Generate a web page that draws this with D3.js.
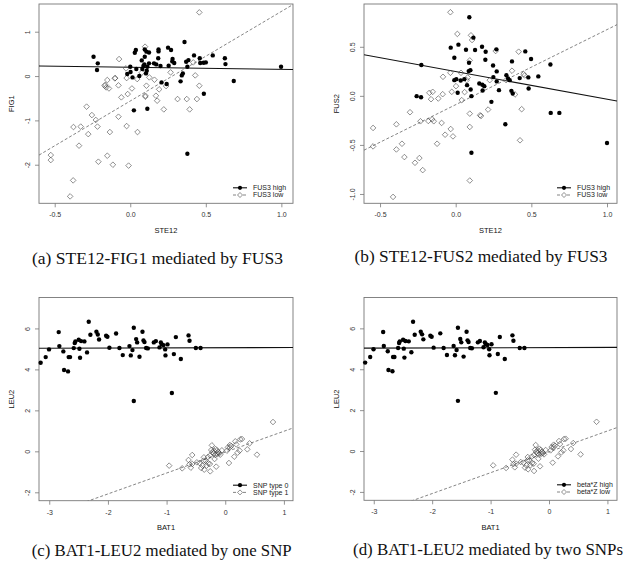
<!DOCTYPE html>
<html>
<head>
<meta charset="utf-8">
<script src="https://cdn.jsdelivr.net/npm/d3@7"></script>
<style>
    body { margin: 0; background: #fff; }
    svg { display: block; }
</style>
</head>
<body>
<div id="chart"></div>
<script>
// ---------- data ----------
// panel (a): STE12 vs FIG1, split by FUS3
const fig1_high = [[-0.243,0.436],[-0.215,0.286],[-0.22,0.135],[0.037,0.586],[0.03,0.526],[0.096,0.60],[0.107,0.55],[0.124,0.53],[0.187,0.60],[0.187,0.556],[0.25,0.64],[0.27,0.586],[0.359,0.767],[0.422,0.466],[0.546,0.466],[0.626,0.40],[0.63,0.27],[0.998,0.21],[0.685,-0.113],[0.487,-0.40],[0.024,-0.774],[0.113,-0.737],[0.378,-1.752],[0.207,-0.143],[0.241,-0.18],[0.333,-0.12],[0.341,0.015],[0.348,0.06],[0.015,-0.03],[-0.02,0.045],[0.002,0.09],[0.0,0.21],[0.04,0.158],[0.06,0.0],[0.076,0.353],[0.093,0.263],[0.109,0.12],[0.113,0.21],[0.104,0.06],[0.124,0.286],[0.157,0.286],[0.172,0.263],[0.185,0.40],[0.2,0.226],[0.254,0.233],[0.28,0.383],[0.278,0.33],[0.291,0.293],[0.37,0.323],[0.385,0.36],[0.378,0.21],[0.463,0.293],[0.485,0.30],[0.5,0.308],[0.46,0.40],[0.087,0.226],[0.08,0.158],[0.096,0.436]];
const fig1_low = [[0.457,1.436],[0.098,0.662],[-0.074,0.383],[-0.028,0.173],[-0.024,-0.045],[0.046,-0.068],[-0.152,-0.09],[-0.102,-0.053],[-0.17,-0.218],[-0.159,-0.256],[-0.141,-0.28],[-0.078,-0.21],[0.011,-0.28],[-0.017,-0.406],[-0.059,-0.48],[0.1,-0.444],[0.1,-0.466],[0.107,-0.218],[0.17,-0.444],[0.178,-0.556],[0.191,-0.30],[0.222,-0.752],[0.237,-0.226],[0.267,0.083],[0.076,0.075],[0.16,-0.083],[-0.289,-0.69],[-0.254,-0.88],[-0.228,-0.99],[-0.217,-1.14],[-0.328,-1.14],[-0.278,-1.31],[-0.339,-1.57],[-0.376,-1.15],[-0.078,-0.917],[-0.024,-1.128],[0.048,-1.263],[-0.135,-1.263],[-0.152,-1.797],[-0.211,-1.932],[-0.115,-2.0],[-0.011,-2.02],[-0.526,-1.782],[-0.526,-1.895],[-0.378,-2.353],[-0.398,-2.714],[0.313,-0.519],[0.374,-0.519],[0.393,-0.752],[0.441,-0.519],[0.43,0.015],[0.457,-0.218],[0.417,0.308],[0.126,-0.03],[-0.1,-0.045],[-0.165,-0.2]];

// panel (b): STE12 vs FUS2, split by FUS3
const fus2_high = [[0.09,0.801],[-0.033,0.491],[0.018,0.522],[0.068,0.47],[0.117,0.593],[0.128,0.467],[0.174,0.501],[0.198,0.45],[0.269,0.474],[0.46,0.453],[-0.009,0.389],[0.088,0.338],[0.196,0.368],[0.247,0.31],[0.271,0.249],[0.372,0.351],[0.498,0.375],[0.626,0.32],[-0.227,0.314],[-0.258,-0.003],[-0.229,-0.014],[-0.009,0.16],[0.004,0.17],[0.033,0.157],[0.057,0.17],[0.086,0.252],[0.097,0.262],[0.013,0.031],[0.075,0.109],[0.099,0.065],[0.104,-0.003],[0.156,0.126],[0.176,0.113],[0.178,0.055],[0.189,0.099],[0.249,0.191],[0.271,0.147],[0.286,0.058],[0.236,-0.061],[0.335,0.211],[0.346,0.177],[0.357,0.16],[0.368,0.051],[0.377,0.024],[0.423,0.181],[0.48,0.188],[0.482,0.075],[0.546,0.198],[0.328,-0.29],[0.628,-0.174],[0.685,-0.174],[1.0,-0.481],[0.104,-0.58]];
const fus2_low = [[-0.035,0.852],[0.011,0.631],[0.101,0.617],[0.108,0.569],[0.093,0.361],[-0.035,0.235],[-0.084,0.194],[0.035,0.235],[0.002,0.099],[-0.026,0.041],[-0.086,0.017],[-0.174,0.031],[-0.152,0.041],[-0.163,-0.034],[-0.115,-0.027],[-0.302,-0.167],[-0.392,-0.29],[-0.546,-0.327],[-0.233,-0.259],[-0.181,-0.256],[-0.156,-0.239],[-0.145,-0.259],[-0.093,-0.276],[-0.033,-0.338],[-0.07,-0.396],[-0.018,-0.413],[-0.123,-0.488],[-0.355,-0.488],[-0.546,-0.515],[-0.392,-0.546],[-0.339,-0.624],[-0.24,-0.634],[-0.269,-0.682],[-0.218,-0.757],[-0.414,-1.03],[0.093,-0.181],[0.093,-0.317],[0.167,-0.205],[0.161,-0.198],[0.214,-0.14],[0.093,-0.863],[0.059,0.038],[0.04,-0.044],[0.079,0.187],[0.225,0.16],[0.073,0.16],[0.372,0.256],[0.416,0.45],[0.264,0.457],[0.449,0.221],[0.456,0.208],[0.392,0.014],[0.436,-0.136],[0.425,-0.453],[0.333,0.16]];

// panels (c) and (d): BAT1 vs LEU2 (same samples, two groupings)
const leu2_high = [[-3.147,4.325],[-3.061,4.6],[-3.004,4.976],[-2.839,5.821],[-2.828,5.138],[-2.76,4.878],[-2.748,3.967],[-2.68,3.902],[-2.669,4.6],[-2.646,4.6],[-2.583,5.04],[-2.566,5.285],[-2.555,5.366],[-2.498,5.447],[-2.475,4.569],[-2.458,5.382],[-2.486,5.008],[-2.401,5.366],[-2.356,4.829],[-2.327,6.325],[-2.299,5.691],[-2.196,5.837],[-2.173,5.707],[-2.151,5.463],[-2.031,5.642],[-2.009,5.593],[-1.975,5.057],[-1.861,5.756],[-1.804,5.041],[-1.747,4.699],[-1.633,5.138],[-1.61,4.683],[-1.582,4.943],[-1.559,6.033],[-1.559,2.455],[-1.519,5.48],[-1.502,5.317],[-1.462,4.618],[-1.411,5.837],[-1.394,5.415],[-1.377,5.333],[-1.349,5.041],[-1.32,5.024],[-1.218,5.317],[-1.183,5.382],[-1.121,5.073],[-1.098,5.317],[-1.081,5.22],[-1.053,5.187],[-1.024,4.976],[-1.019,4.683],[-0.984,5.22],[-0.91,2.846],[-0.876,4.748],[-0.842,5.577],[-0.757,4.504],[-0.626,5.659],[-0.609,5.398],[-0.501,5.041],[-0.421,5.041]];
const leu2_low = [[0.814,1.431],[-0.956,-0.699],[-0.734,-0.829],[-0.609,-0.634],[-0.563,-0.179],[-0.626,-0.423],[-0.586,-0.797],[-0.484,-0.537],[-0.438,-0.569],[-0.41,-0.813],[-0.387,-0.699],[-0.364,-0.293],[-0.336,-0.455],[-0.319,-0.699],[-0.29,-0.585],[-0.296,-0.276],[-0.256,-0.195],[-0.262,-0.618],[-0.256,-0.976],[-0.228,0.293],[-0.239,0.065],[-0.222,-0.049],[-0.199,-0.098],[-0.182,-0.374],[-0.193,0.033],[-0.165,0.114],[-0.154,-0.748],[-0.142,0.049],[-0.119,-0.033],[-0.102,-0.098],[-0.057,0.049],[-0.131,-0.13],[-0.085,-0.163],[0.028,0.033],[0.063,-0.569],[0.08,0.195],[0.08,0.309],[0.102,0.26],[0.154,-0.26],[0.171,0.488],[0.211,-0.065],[0.245,0.033],[0.256,0.585],[0.285,0.602],[0.376,0.098],[0.415,0.39],[0.541,-0.163],[-0.37,-0.455],[-0.358,-0.894],[-0.563,-0.618],[-0.171,-0.179],[0.045,0.195],[0.188,0.341]];

// fitted lines per group: [intercept, slope]
const fit_fig1 = {high: [0.197, -0.047], low: [-0.563, 2.02]};
const fit_fus2 = {high: [0.248, -0.282], low: [-0.09, 0.765]};
const fit_leu2 = {high: [5.06, 0.008], low: [-0.04, 1.02]};

// tick values and labels
const ste12_ticks = [-0.5, 0, 0.5, 1];
const ste12_tick_labels = ["-0.5", "0.0", "0.5", "1.0"];
const fig1_ticks = [-2, -1, 0, 1];
const fig1_tick_labels = ["-2", "-1", "0", "1"];
const fus2_ticks = [-1, -0.5, 0, 0.5];
const fus2_tick_labels = ["-1.0", "-0.5", "0.0", "0.5"];
const bat1_ticks = [-3, -2, -1, 0, 1];
const bat1_tick_labels = ["-3", "-2", "-1", "0", "1"];
const leu2_ticks = [-2, 0, 2, 4, 6];
const leu2_tick_labels = ["-2", "0", "2", "4", "6"];

class Mediation_Panel {
    constructor(svg, cfg) {
        this.svg = svg;
        this.cfg = cfg;
        this.initVis();
    }

    initVis() {
        let c = this.cfg;
        this.g = this.svg.append("g");

        // scales
        this.x = d3.scaleLinear().domain(c.xDomain).range([c.box.left, c.box.right]);
        this.y = d3.scaleLinear().domain(c.yDomain).range([c.box.bottom, c.box.top]);

        // clip for regression lines
        this.g.append("clipPath")
            .attr("id", "clip-" + c.id)
            .append("rect")
            .attr("x", c.box.left)
            .attr("y", c.box.top)
            .attr("width", c.box.right - c.box.left)
            .attr("height", c.box.bottom - c.box.top);

        this.drawAxes();
        this.drawFits();
        this.drawPoints();
        this.drawLegend();

        // caption under panel
        this.g.append("text")
            .attr("x", c.caption.x)
            .attr("y", c.caption.y)
            .attr("text-anchor", "middle")
            .attr("font-family", "Liberation Serif, serif")
            .attr("font-size", "16.5px")
            .attr("fill", "#111")
            .attr("textLength", c.caption.w)
            .attr("lengthAdjust", "spacingAndGlyphs")
            .text(c.caption.text);
    }

    drawAxes() {
        let c = this.cfg;

        let xAxis = this.g.append("g")
            .attr("transform", "translate(0," + c.box.bottom + ")")
            .call(d3.axisBottom(this.x)
                .tickValues(c.xTicks)
                .tickFormat((d, i) => c.xTickLabels[i])
                .tickSize(4)
                .tickPadding(5));
        xAxis.select(".domain").remove();

        let yAxis = this.g.append("g")
            .attr("transform", "translate(" + c.box.left + ",0)")
            .call(d3.axisLeft(this.y)
                .tickValues(c.yTicks)
                .tickFormat((d, i) => c.yTickLabels[i])
                .tickSize(4));
        yAxis.select(".domain").remove();
        yAxis.selectAll("text")
            .attr("transform", "rotate(-90)")
            .attr("x", 0)
            .attr("y", -9)
            .attr("dy", 0)
            .attr("text-anchor", "middle");

        [xAxis, yAxis].forEach(a => {
            a.selectAll("line").attr("stroke", "#777").attr("stroke-width", 0.8);
            a.selectAll("text")
                .attr("font-family", "Liberation Sans, Arial, sans-serif")
                .attr("font-size", "7px")
                .attr("fill", "#333");
        });

        // box
        this.g.append("rect")
            .attr("x", c.box.left)
            .attr("y", c.box.top)
            .attr("width", c.box.right - c.box.left)
            .attr("height", c.box.bottom - c.box.top)
            .attr("fill", "none")
            .attr("stroke", "#777")
            .attr("stroke-width", 0.9);

        // axis titles
        this.g.append("text")
            .attr("x", (c.box.left + c.box.right) / 2)
            .attr("y", c.box.bottom + 29.5)
            .attr("text-anchor", "middle")
            .attr("font-family", "Liberation Sans, Arial, sans-serif")
            .attr("font-size", "7.5px")
            .attr("fill", "#111")
            .text(c.xLabel);

        this.g.append("text")
            .attr("transform", "rotate(-90)")
            .attr("x", -(c.box.top + c.box.bottom) / 2)
            .attr("y", c.box.left - 25)
            .attr("text-anchor", "middle")
            .attr("font-family", "Liberation Sans, Arial, sans-serif")
            .attr("font-size", "7.5px")
            .attr("fill", "#111")
            .text(c.yLabel);
    }

    drawFits() {
        let c = this.cfg;
        let x0 = c.xDomain[0], x1 = c.xDomain[1];
        let lines = [
            {coef: c.fit.high, dash: null, color: "#111", width: 1.1},
            {coef: c.fit.low, dash: "3,2", color: "#666", width: 0.8}
        ];
        this.g.append("g")
            .attr("clip-path", "url(#clip-" + c.id + ")")
            .selectAll("line")
            .data(lines)
            .join("line")
            .attr("x1", this.x(x0))
            .attr("x2", this.x(x1))
            .attr("y1", d => this.y(d.coef[0] + d.coef[1] * x0))
            .attr("y2", d => this.y(d.coef[0] + d.coef[1] * x1))
            .attr("stroke", d => d.color)
            .attr("stroke-width", d => d.width)
            .attr("stroke-dasharray", d => d.dash);
    }

    drawPoints() {
        let c = this.cfg;
        // open diamonds (low group)
        this.g.append("g")
            .selectAll("path")
            .data(c.low)
            .join("path")
            .attr("transform", d => "translate(" + this.x(d[0]) + "," + this.y(d[1]) + ")")
            .attr("d", diamond(2.8))
            .attr("fill", "none")
            .attr("stroke", "#444")
            .attr("stroke-width", 0.6);

        // filled circles (high group)
        this.g.append("g")
            .selectAll("circle")
            .data(c.high)
            .join("circle")
            .attr("cx", d => this.x(d[0]))
            .attr("cy", d => this.y(d[1]))
            .attr("r", 2.2)
            .attr("fill", "#000");
    }

    drawLegend() {
        let c = this.cfg;
        let lx = c.box.right - 60, rows = [c.box.bottom - 15.5, c.box.bottom - 8.3];
        let legend = this.g.append("g").attr("class", "legend");

        legend.append("line")
            .attr("x1", lx).attr("x2", lx + 14)
            .attr("y1", rows[0]).attr("y2", rows[0])
            .attr("stroke", "#111").attr("stroke-width", 1.1);
        legend.append("circle")
            .attr("cx", lx + 7).attr("cy", rows[0]).attr("r", 2.1)
            .attr("fill", "#000");

        legend.append("line")
            .attr("x1", lx).attr("x2", lx + 14)
            .attr("y1", rows[1]).attr("y2", rows[1])
            .attr("stroke", "#666").attr("stroke-width", 0.8)
            .attr("stroke-dasharray", "3,2");
        legend.append("path")
            .attr("transform", "translate(" + (lx + 7) + "," + rows[1] + ")")
            .attr("d", diamond(2.5))
            .attr("fill", "#fff")
            .attr("stroke", "#444")
            .attr("stroke-width", 0.6);

        legend.selectAll("text")
            .data(c.legendLabels)
            .join("text")
            .attr("x", lx + 20)
            .attr("y", (d, i) => rows[i] + 2.4)
            .attr("font-family", "Liberation Sans, Arial, sans-serif")
            .attr("font-size", "7px")
            .attr("fill", "#222")
            .text(d => d);
    }
}

function diamond(s) {
    return "M0," + (-s) + "L" + s + ",0L0," + s + "L" + (-s) + ",0Z";
}

// ---------- build figure ----------
const svg = d3.select("#chart").append("svg")
    .attr("width", 626)
    .attr("height", 568);

const panels = [
    {id: "a", box: {left: 39, right: 293, top: 4, bottom: 203.3},
        xDomain: [-0.604, 1.077], yDomain: [-2.87, 1.625],
        xTicks: ste12_ticks, xTickLabels: ste12_tick_labels, yTicks: fig1_ticks, yTickLabels: fig1_tick_labels,
        xLabel: "STE12", yLabel: "FIG1", high: fig1_high, low: fig1_low, fit: fit_fig1,
        legendLabels: ["FUS3 high", "FUS3 low"],
        caption: {text: "(a) STE12-FIG1 mediated by FUS3", x: 157.5, y: 263.5, w: 251}},
    {id: "b", box: {left: 364, right: 617, top: 4, bottom: 203.3},
        xDomain: [-0.606, 1.066], yDomain: [-1.095, 0.936],
        xTicks: ste12_ticks, xTickLabels: ste12_tick_labels, yTicks: fus2_ticks, yTickLabels: fus2_tick_labels,
        xLabel: "STE12", yLabel: "FUS2", high: fus2_high, low: fus2_low, fit: fit_fus2,
        legendLabels: ["FUS3 high", "FUS3 low"],
        caption: {text: "(b) STE12-FUS2 mediated by FUS3", x: 481, y: 262, w: 253}},
    {id: "c", box: {left: 39, right: 293, top: 297.5, bottom: 500.7},
        xDomain: [-3.175, 1.155], yDomain: [-2.41, 7.51],
        xTicks: bat1_ticks, xTickLabels: bat1_tick_labels, yTicks: leu2_ticks, yTickLabels: leu2_tick_labels,
        xLabel: "BAT1", yLabel: "LEU2", high: leu2_high, low: leu2_low, fit: fit_leu2,
        legendLabels: ["SNP type 0", "SNP type 1"],
        caption: {text: "(c) BAT1-LEU2 mediated by one SNP", x: 161.7, y: 556, w: 260}},
    {id: "d", box: {left: 364, right: 617, top: 297.5, bottom: 500.3},
        xDomain: [-3.167, 1.164], yDomain: [-2.41, 7.51],
        xTicks: bat1_ticks, xTickLabels: bat1_tick_labels, yTicks: leu2_ticks, yTickLabels: leu2_tick_labels,
        xLabel: "BAT1", yLabel: "LEU2", high: leu2_high, low: leu2_low, fit: fit_leu2,
        legendLabels: ["beta*Z high", "beta*Z low"],
        caption: {text: "(d) BAT1-LEU2 mediated by two SNPs", x: 488, y: 554.5, w: 270}}
];

panels.forEach(p => new Mediation_Panel(svg, p));
</script>
</body>
</html>
